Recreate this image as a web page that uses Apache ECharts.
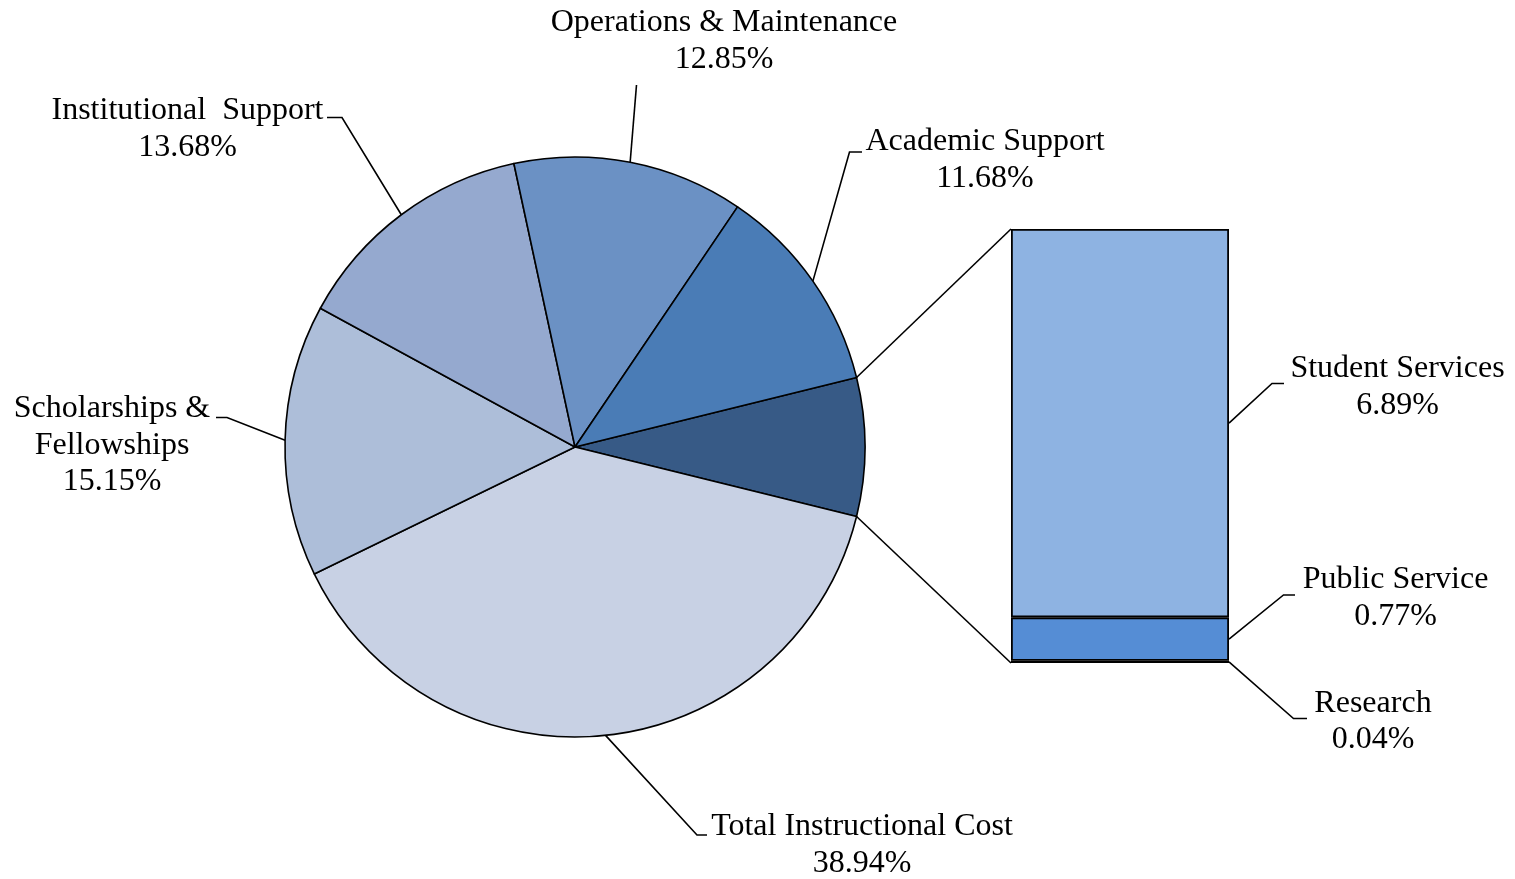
<!DOCTYPE html>
<html>
<head>
<meta charset="utf-8">
<script src="https://cdn.jsdelivr.net/npm/echarts@6/dist/echarts.min.js"></script>
<style>
  html, body { margin: 0; padding: 0; background: #ffffff; }
  #chart { width: 1515px; height: 879px; }
</style>
</head>
<body>
<div id="chart"></div>
<script>
// Expense categories shown in the pie (clockwise after the aggregated slice)
const pieCategories = ['Total Instructional Cost', 'Scholarships &\nFellowships', 'Institutional  Support', 'Operations & Maintenance', 'Academic Support'];
const pieValues = [38.94, 15.15, 13.68, 12.85, 11.68];
const pieColors = ['#C8D1E4', '#ADBED9', '#95A9CF', '#6B91C4', '#4A7CB6'];

// Smaller categories broken out in the stacked bar (bottom to top)
const barCategories = ['Research', 'Public Service', 'Student Services'];
const barValues = [0.04, 0.77, 6.89];
const barColors = ['#14243A', '#558DD5', '#8EB3E2'];
const otherColor = '#375A86';

const FONT = "'Liberation Serif', 'Times New Roman', serif";
const FONT_SIZE = 32;
const LINE_H = 36.5;

const otherValue = +barValues.reduce((a, b) => a + b, 0).toFixed(2);
const total = pieValues.reduce((a, b) => a + b, 0) + otherValue;

// Pie geometry
const PIE_CX = 575, PIE_CY = 447, PIE_R = 290;
// the aggregated slice is centred on the 3 o'clock direction
const halfOther = otherValue / total * 180;

// Label placement: block centre and leader-line bend/end points
const pieLabelSpots = {
  'Total Instructional Cost': { x: 862, y: 845, line: [[697, 835], [707, 835]] },
  'Scholarships &\nFellowships': { x: 112, y: 445.5, line: [[227, 417.5], [216, 417.5]] },
  'Institutional  Support': { x: 187.5, y: 129, line: [[342, 117.5], [327, 117.5]] },
  'Operations & Maintenance': { x: 724, y: 41, line: [[636.5, 85]] },
  'Academic Support': { x: 985, y: 160, line: [[849.5, 152], [862, 152]] }
};
const barLabelSpots = {
  'Student Services': { x: 1397.5, y: 387, line: [[1272, 383.5], [1284, 383.5]] },
  'Public Service': { x: 1395.5, y: 598, line: [[1283.5, 595], [1295, 595]] },
  'Research': { x: 1373, y: 721.5, line: [[1293.5, 718.5], [1307, 718.5]] }
};

const labelText = {
  fontFamily: FONT, fontSize: FONT_SIZE, lineHeight: LINE_H, color: '#000000'
};

const pieData = [{
  name: 'Other', value: otherValue,
  itemStyle: { color: otherColor },
  label: { show: false }
}].concat(pieCategories.map((name, i) => ({
  name: name, value: pieValues[i], itemStyle: { color: pieColors[i] }
})));

const chart = echarts.init(document.getElementById('chart'), null, { renderer: 'canvas' });

const option = {
  animation: false,
  backgroundColor: '#ffffff',
  grid: { left: 1011, top: 229, width: 218, height: 434, containLabel: false },
  xAxis: { type: 'category', data: ['Other'], show: false },
  yAxis: { type: 'value', min: 0, max: otherValue, show: false },
  series: [
    {
      type: 'pie',
      center: [PIE_CX, PIE_CY],
      radius: PIE_R,
      startAngle: halfOther,
      clockwise: true,
      avoidLabelOverlap: false,
      silent: true,
      itemStyle: { borderColor: '#000000', borderWidth: 1.6 },
      label: Object.assign({
        show: true,
        position: 'outside',
        align: 'center',
        formatter: p => p.name + '\n' + p.value.toFixed(2) + '%'
      }, labelText),
      labelLine: { show: false },
      labelLayout: params => {
        const spot = pieLabelSpots[pieData[params.dataIndex].name];
        if (!spot) return {};
        return { x: spot.x, y: spot.y, align: 'center', verticalAlign: 'middle' };
      },
      data: pieData
    }
  ].concat(barCategories.map((name, i) => ({
    type: 'bar',
    name: name,
    stack: 'other',
    barWidth: '100%',
    silent: true,
    itemStyle: { color: barColors[i], borderColor: '#000000', borderWidth: 1.8 },
    label: Object.assign({
      show: true,
      align: 'center',
      formatter: p => p.seriesName + '\n' + p.value.toFixed(2) + '%'
    }, labelText),
    labelLayout: () => {
      const spot = barLabelSpots[name];
      return { x: spot.x, y: spot.y, align: 'center', verticalAlign: 'middle' };
    },
    data: [barValues[i]]
  })))
};

chart.setOption(option);

// Leader lines and the connectors between the pie and the bar
function rimPoint(deg) {
  const a = deg * Math.PI / 180;
  return [PIE_CX + PIE_R * Math.cos(a), PIE_CY - PIE_R * Math.sin(a)];
}

const lineStyle = { stroke: '#000000', lineWidth: 1.6, fill: null };
const graphics = [];

// pie leader lines start on the rim at each slice's mid angle
let cum = otherValue;
pieCategories.forEach((name, i) => {
  const start = halfOther - cum / total * 360;
  const mid = start - pieValues[i] / 2 / total * 360;
  cum += pieValues[i];
  const spot = pieLabelSpots[name];
  graphics.push({
    type: 'polyline', silent: true, z: 10,
    shape: { points: [rimPoint(mid)].concat(spot.line) },
    style: lineStyle
  });
});

// bar geometry from the grid's own scales
const topLeft = chart.convertToPixel({ gridIndex: 0 }, [0, otherValue]);
const bottomLeft = chart.convertToPixel({ gridIndex: 0 }, [0, 0]);
const gridRect = chart.getModel().getComponent('grid', 0).coordinateSystem.getRect();
const barLeft = gridRect.x, barRight = gridRect.x + gridRect.width;

let stackBase = 0;
barCategories.forEach((name, i) => {
  const midVal = stackBase + barValues[i] / 2;
  stackBase += barValues[i];
  const y = chart.convertToPixel({ yAxisIndex: 0 }, midVal);
  const spot = barLabelSpots[name];
  graphics.push({
    type: 'polyline', silent: true, z: 10,
    shape: { points: [[barRight, y]].concat(spot.line) },
    style: lineStyle
  });
});

// connectors from the aggregated slice edges to the bar corners
graphics.push({
  type: 'line', silent: true, z: 10,
  shape: (() => { const p = rimPoint(halfOther); return { x1: p[0], y1: p[1], x2: barLeft, y2: topLeft[1] }; })(),
  style: lineStyle
});
graphics.push({
  type: 'line', silent: true, z: 10,
  shape: (() => { const p = rimPoint(-halfOther); return { x1: p[0], y1: p[1], x2: barLeft, y2: bottomLeft[1] }; })(),
  style: lineStyle
});

chart.setOption({ graphic: graphics });
</script>
</body>
</html>
